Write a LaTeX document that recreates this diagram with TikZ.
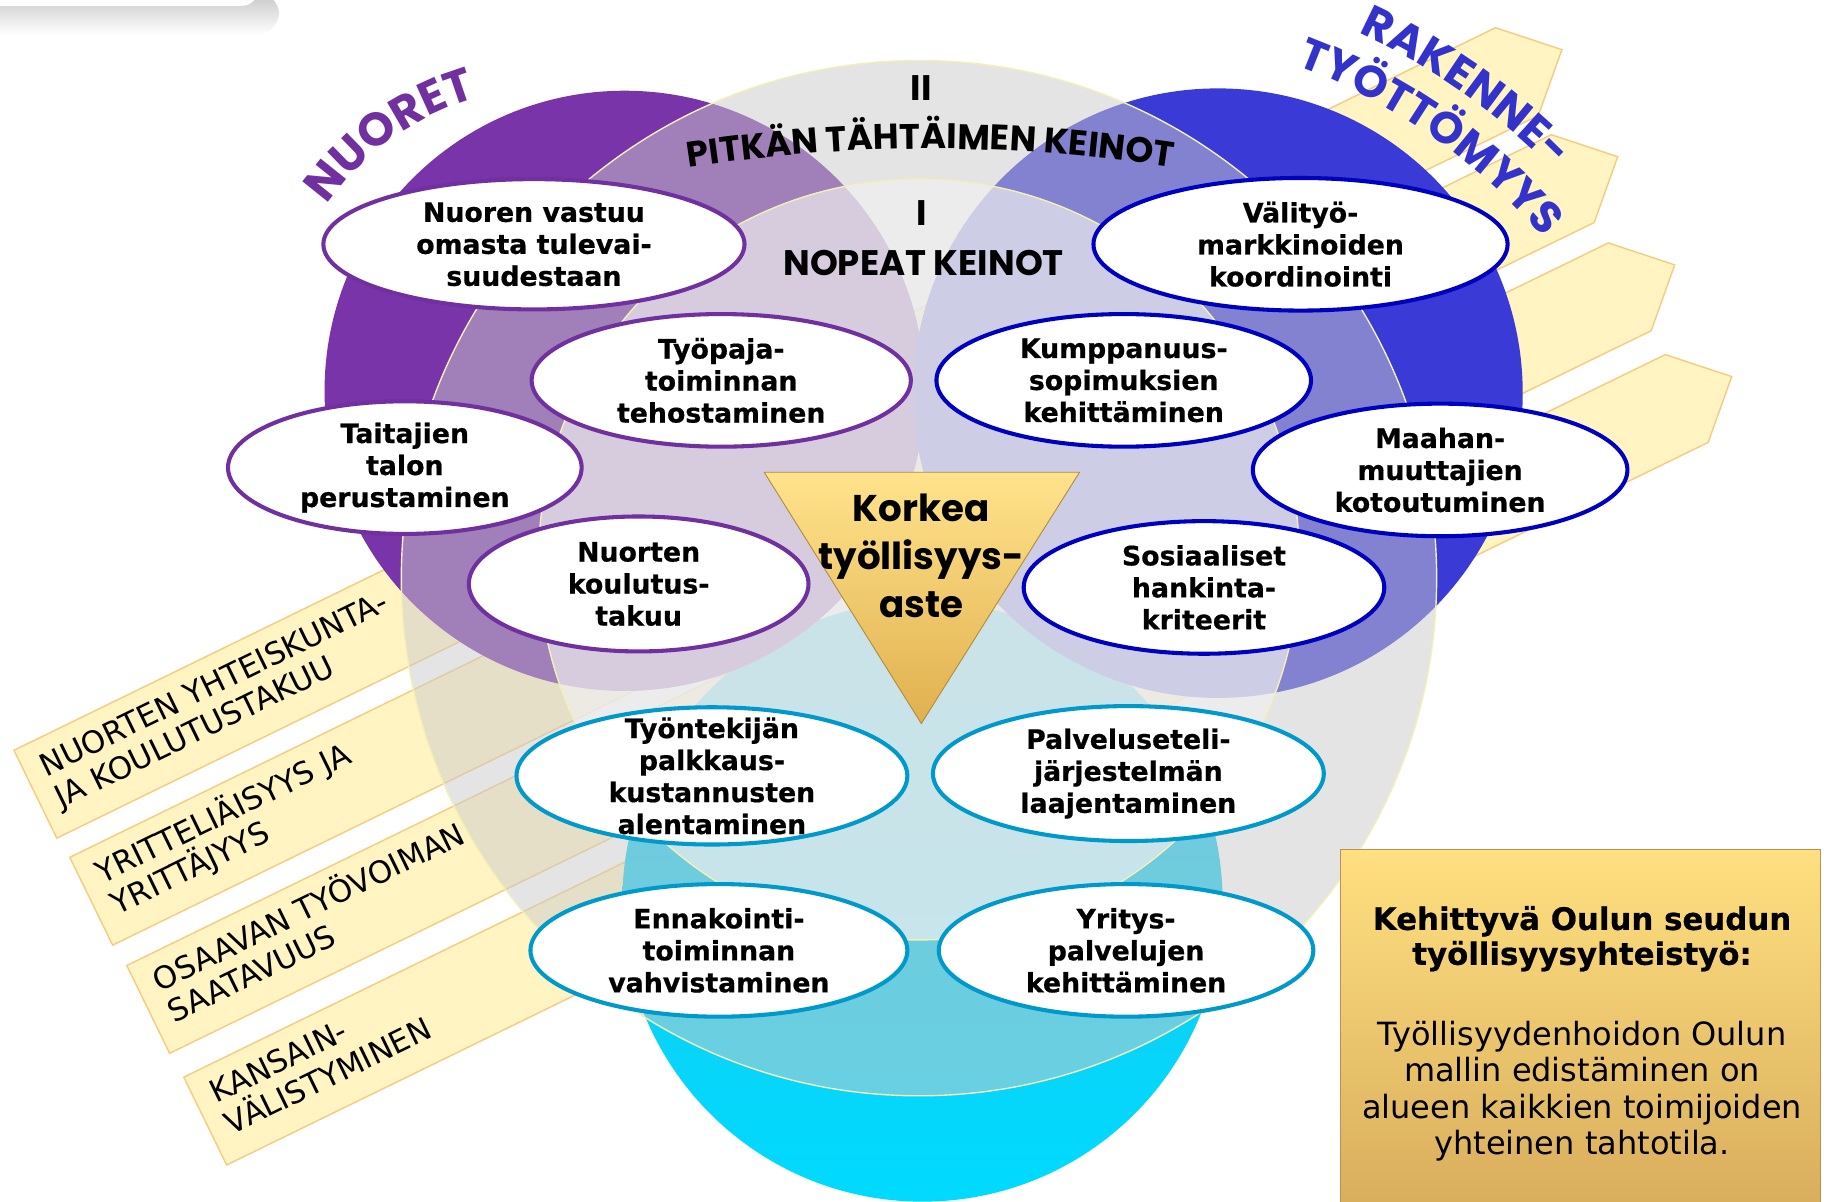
\documentclass[tikz,border=0pt]{standalone}
\usepackage{fontspec}
\newfontfamily\verd{DejaVu Sans}[BoldFeatures={FakeBold=0.6}]
\newfontfamily\gothic{Poppins}
\usetikzlibrary{shapes.geometric, decorations.text}

\definecolor{purp}{HTML}{7834A8}
\definecolor{purpline}{HTML}{7030A0}
\definecolor{blu}{HTML}{3A3AD6}
\definecolor{bluline}{HTML}{0000C0}
\definecolor{rakenne}{HTML}{3333CC}
\definecolor{cyntop}{HTML}{20C4E6}
\definecolor{cynbot}{HTML}{00DAFF}
\definecolor{cynline}{HTML}{0099CC}
\definecolor{veilout}{HTML}{CBCBCB}
\definecolor{veilin}{HTML}{F0F0F0}
\definecolor{rim}{HTML}{F3EFB8}
\definecolor{bandfill}{HTML}{FFF4C2}
\definecolor{bandline}{HTML}{F6CB80}
\definecolor{goldtop}{HTML}{FFE38C}
\definecolor{goldbot}{HTML}{E0B04E}
\definecolor{boxtop}{HTML}{FFE080}
\definecolor{boxbot}{HTML}{D8AC5C}

\tikzset{
  oval/.style={ellipse, draw=#1, line width=3.5, fill=white, inner sep=0},
  ovaltext/.style={font=\verd\bfseries\fontsize{23}{27.5}\selectfont, align=center, inner sep=0},
  bandtext/.style={font=\verd\fontsize{26.5}{30}\selectfont, anchor=base west, inner sep=0},
  band/.style={fill=bandfill, draw=bandline, line width=1.2},
  keinot/.style={font=\gothic\bfseries\fontsize{30.5}{30.5}\selectfont, inner sep=0, anchor=base},
  veil/.style={fill=#1, draw=rim, line width=1.2},
}

\begin{document}
\begin{tikzpicture}[x=1pt, y=1pt]
\useasboundingbox (0,0) rectangle (1568,1033);
\fill[white] (0,0) rectangle (1568,1033);
\shade[top color=gray!45, bottom color=white, rounded corners=20] (-30,1003) rectangle (240,1040);
\fill[white, rounded corners=14] (-30,1028) rectangle (222,1060);

\begin{scope}[shift={(12,388)}, rotate=26, transform shape]
\draw[band] (0,0) -- (1417,0) -- (1460,-42) -- (1417,-84) -- (0,-84) -- cycle;
\node[bandtext] (nuorten1) at (15,-33) {NUORTEN YHTEISKUNTA-};
\node[bandtext] (nuorten2) at (15,-63) {JA KOULUTUSTAKUU};
\end{scope}
\begin{scope}[shift={(60,296)}, rotate=26, transform shape]
\draw[band] (0,0) -- (1417,0) -- (1460,-42) -- (1417,-84) -- (0,-84) -- cycle;
\node[bandtext] (yritt1) at (15,-33) {YRITTELIÄISYYS JA};
\node[bandtext] (yritt2) at (15,-63) {YRITTÄJYYS};
\end{scope}
\begin{scope}[shift={(109,203)}, rotate=26, transform shape]
\draw[band] (0,0) -- (1417,0) -- (1460,-42) -- (1417,-84) -- (0,-84) -- cycle;
\node[bandtext] (osaavan1) at (15,-33) {OSAAVAN TYÖVOIMAN};
\node[bandtext] (osaavan2) at (15,-63) {SAATAVUUS};
\end{scope}
\begin{scope}[shift={(158,107)}, rotate=26, transform shape]
\draw[band] (0,0) -- (1417,0) -- (1460,-42) -- (1417,-84) -- (0,-84) -- cycle;
\node[bandtext] (kansain1) at (15,-33) {KANSAIN-};
\node[bandtext] (kansain2) at (15,-63) {VÄLISTYMINEN};
\end{scope}

\shade[top color=cyntop, bottom color=cynbot] (793,258) circle[radius=258];
\fill[purp] (537,697) circle[radius=258];
\fill[blu] (1047,695) circle[radius=262];
\filldraw[veil=veilout, fill opacity=.5] (790,536) circle[radius=445];
\filldraw[veil=veilin, fill opacity=.69] (790,552) circle[radius=327];

\shadedraw[top color=goldtop, bottom color=goldbot, draw=goldbot!80!black, line width=.8] (657,627) -- (928,627) -- (792,411) -- cycle;
\node[font=\gothic\bfseries\fontsize{32}{41}\selectfont, align=center, inner sep=0] (korkea) at (792,555) {Korkea\\työllisyys-\\aste};

\node[keinot] (ii) at (792,947) {II};
\path[decorate, decoration={text along path, text align=center, text color=black, text={|\gothic\bfseries\fontsize{30.5}{30.5}\selectfont|PITKÄN TÄHTÄIMEN KEINOT}}] ([shift={(100:1368)}]800,-463) arc[start angle=100, end angle=80, radius=1368];
\node[keinot] (i) at (792,839) {I};
\node[keinot] (nopeat) at (794,796) {NOPEAT KEINOT};

\path[decorate, decoration={text along path, text align=center, text color=purpline, text={|\gothic\bfseries\fontsize{40}{40}\selectfont|NUORET}}] ([shift={(165:237)}]475,721) arc[start angle=165, end angle=86, radius=237];
\path[decorate, decoration={text along path, text align=center, text color=rakenne, text={|\gothic\bfseries\fontsize{39}{39}\selectfont|RAKENNE-}}] ([shift={(80:566)}]932,490) arc[start angle=80, end angle=30, radius=566];
\path[decorate, decoration={text along path, text align=center, text color=rakenne, text={|\gothic\bfseries\fontsize{38}{38}\selectfont|TYÖTTÖMYYS}}] ([shift={(85:520)}]932,490) arc[start angle=85, end angle=25, radius=520];

\node[oval=purpline, minimum width=362, minimum height=112] (vastuu) at (459,823) {};
\node[ovaltext] (vastuut) at (vastuu) {Nuoren vastuu\\omasta tulevai-\\suudestaan};
\node[oval=purpline, minimum width=326, minimum height=114] (tyopaja) at (620,706) {};
\node[ovaltext] (tyopajat) at (tyopaja) {Työpaja-\\toiminnan\\tehostaminen};
\node[oval=purpline, minimum width=304, minimum height=114] (taitajien) at (348,631) {};
\node[ovaltext] (taitajient) at (taitajien) {Taitajien\\talon\\perustaminen};
\node[oval=purpline, minimum width=292, minimum height=116] (koulutus) at (549,531) {};
\node[ovaltext] (koulutust) at (koulutus) {Nuorten\\koulutus-\\takuu};

\node[oval=bluline, minimum width=356, minimum height=114] (valityo) at (1118,823) {};
\node[ovaltext] (valityot) at (valityo) {Välityö-\\markkinoiden\\koordinointi};
\node[oval=bluline, minimum width=322, minimum height=114] (kumppanuus) at (966,706) {};
\node[ovaltext] (kumppanuust) at (kumppanuus) {Kumppanuus-\\sopimuksien\\kehittäminen};
\node[oval=bluline, minimum width=322, minimum height=114] (maahan) at (1238,629) {};
\node[ovaltext] (maahant) at (maahan) {Maahan-\\muuttajien\\kotoutuminen};
\node[oval=bluline, minimum width=310, minimum height=114] (sosiaaliset) at (1035,528) {};
\node[ovaltext] (sosiaalisett) at (sosiaaliset) {Sosiaaliset\\hankinta-\\kriteerit};

\node[oval=cynline, minimum width=336, minimum height=118] (tyontekija) at (612,366) {};
\node[ovaltext] (tyontekijat) at (tyontekija) {Työntekijän\\palkkaus-\\kustannusten\\alentaminen};
\node[oval=cynline, minimum width=336, minimum height=116] (palvelu) at (970,368) {};
\node[ovaltext] (palvelut) at (palvelu) {Palveluseteli-\\järjestelmän\\laajentaminen};
\node[oval=cynline, minimum width=324, minimum height=114] (ennakointi) at (618,216) {};
\node[ovaltext] (ennakointit) at (ennakointi) {Ennakointi-\\toiminnan\\vahvistaminen};
\node[oval=cynline, minimum width=322, minimum height=114] (yritys) at (968,216) {};
\node[ovaltext] (yrityst) at (yritys) {Yritys-\\palvelujen\\kehittäminen};

\shadedraw[top color=boxtop, bottom color=boxbot, draw=boxbot!85!black, line width=1] (1152,-10) rectangle (1565,303);
\node[font=\verd\bfseries\fontsize{26.5}{30}\selectfont, align=center, inner sep=0] (kehittyva) at (1360,226) {Kehittyvä Oulun seudun\\työllisyysyhteistyö:};
\node[font=\verd\fontsize{27.5}{31.5}\selectfont, align=center, inner sep=0] (tahtotila) at (1360,95) {Työllisyydenhoidon Oulun\\mallin edistäminen on\\alueen kaikkien toimijoiden\\yhteinen tahtotila.};
\end{tikzpicture}
\end{document}
